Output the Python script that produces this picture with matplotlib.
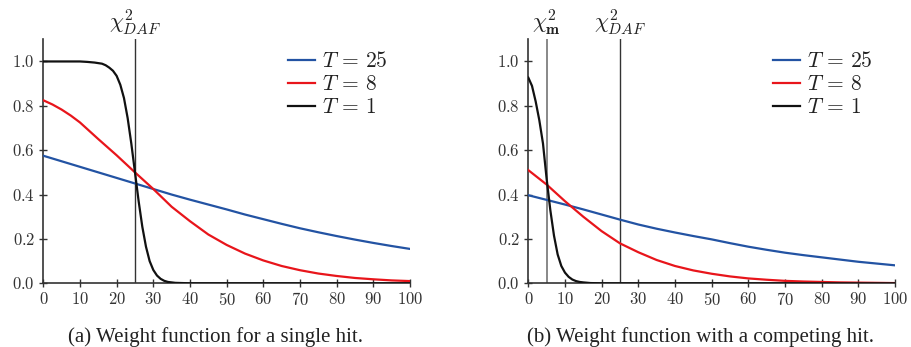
import matplotlib
matplotlib.use("Agg")
import matplotlib.pyplot as plt
import numpy as np

plt.rcParams['mathtext.fontset'] = 'cm'
plt.rcParams['font.family'] = ['Liberation Serif', 'DejaVu Serif']

# ---------------- data ----------------
x_grid = [0, 5, 10, 15, 20, 25, 30, 35, 40, 45, 50, 55, 60, 65, 70, 75, 80, 85, 90, 95, 100]

# (a) single hit
a_T25 = [0.575, 0.55, 0.525, 0.50, 0.475, 0.45, 0.425, 0.40, 0.377, 0.355, 0.333,
         0.31, 0.289, 0.268, 0.248, 0.23, 0.213, 0.197, 0.182, 0.168, 0.155]
a_T8_x = [0, 2.5, 5, 7.5, 10, 15, 20, 25, 30, 35, 40, 45, 50, 55, 60, 65, 70, 75,
          80, 85, 90, 95, 100]
a_T8 = [0.825, 0.806, 0.783, 0.756, 0.725, 0.65, 0.577, 0.50, 0.425, 0.345, 0.28,
        0.22, 0.173, 0.134, 0.103, 0.078, 0.059, 0.044, 0.033, 0.024, 0.018,
        0.013, 0.01]
a_T1_x = [0, 10, 12, 14, 16, 17, 18, 19, 20, 21, 22, 23, 24, 25, 26, 27, 28, 29,
          30, 31, 32, 33, 34, 36, 40, 50, 60, 70, 80, 90, 100]
a_T1 = [1.0, 1.0, 0.998, 0.995, 0.99, 0.983, 0.972, 0.958, 0.935, 0.895, 0.835,
        0.745, 0.63, 0.50, 0.37, 0.255, 0.165, 0.10, 0.06, 0.035, 0.02, 0.011,
        0.006, 0.002, 0.0, 0.0, 0.0, 0.0, 0.0, 0.0, 0.0]

# (b) competing hit
b_T25 = [0.397, 0.376, 0.355, 0.333, 0.31, 0.287, 0.265, 0.246, 0.229, 0.213, 0.198,
         0.181, 0.165, 0.151, 0.138, 0.127, 0.117, 0.107, 0.097, 0.089, 0.081]
b_T8 = [0.51, 0.445, 0.37, 0.30, 0.235, 0.18, 0.14, 0.105, 0.078, 0.058, 0.043,
        0.031, 0.022, 0.016, 0.011, 0.008, 0.006, 0.004, 0.003, 0.002, 0.001]
b_T1_x = [0, 1, 2, 3, 4, 5, 6, 7, 8, 9, 10, 11, 12, 13, 14, 15, 17, 20, 25,
          30, 40, 50, 60, 70, 80, 90, 100]
b_T1 = [0.927, 0.89, 0.82, 0.735, 0.63, 0.47, 0.33, 0.215, 0.13, 0.078, 0.048,
        0.029, 0.017, 0.01, 0.006, 0.004, 0.001, 0.0, 0.0, 0.0, 0.0, 0.0, 0.0,
        0.0, 0.0, 0.0, 0.0]

labels = [r'$T\,=\,25$', r'$T\,=\,8$', r'$T\,=\,1$']
xticks = [0, 10, 20, 30, 40, 50, 60, 70, 80, 90, 100]
yticks = [0.0, 0.2, 0.4, 0.6, 0.8, 1.0]
chi_daf = 25
chi_m = 5
captions = ['(a) Weight function for a single hit.',
            '(b) Weight function with a competing hit.']

# ---------------- style ----------------
c_blue = '#2353a3'
c_red = '#e8151b'
c_black = '#111111'
spine_c = '#333333'

fig = plt.figure(figsize=(9.12, 3.47), dpi=100)
ax_a = fig.add_axes([0.0475, 0.1836, 0.402, 0.7032])
ax_b = fig.add_axes([0.5793, 0.1836, 0.402, 0.7032])


def style(ax):
    ax.set_xlim(0, 100)
    ax.set_ylim(0, 1.1)
    for s in ['top', 'right']:
        ax.spines[s].set_visible(False)
    for s in ['left', 'bottom']:
        ax.spines[s].set_color(spine_c)
        ax.spines[s].set_linewidth(1.2)
    ax.set_xticks(xticks)
    ax.set_xticklabels([f'${t}$' for t in xticks])
    ax.set_yticks(yticks)
    ax.set_yticklabels([f'${t:.1f}$' for t in yticks])
    ax.tick_params(direction='inout', length=6, width=1.0, color=spine_c,
                   labelsize=12, labelcolor='#333333', pad=3)


for ax, (t25x, t25, t8x, t8, t1x, t1) in [
        (ax_a, (x_grid, a_T25, a_T8_x, a_T8, a_T1_x, a_T1)),
        (ax_b, (x_grid, b_T25, x_grid, b_T8, b_T1_x, b_T1))]:
    style(ax)
    ax.axvline(chi_daf, color='#333333', lw=1.0, zorder=1)
    ax.plot(t25x, t25, color=c_blue, lw=1.6, label=labels[0], zorder=3)
    ax.plot(t8x, t8, color=c_red, lw=1.6, label=labels[1], zorder=3)
    ax.plot(t1x, t1, color=c_black, lw=1.6, label=labels[2], zorder=3)
    leg = ax.legend(loc='upper left', bbox_to_anchor=(0.667, 0.948), frameon=False,
                    fontsize=15.5, handlelength=1.25, handletextpad=0.35,
                    labelspacing=0.14, borderpad=0, borderaxespad=0)
    for txt in leg.get_texts():
        txt.set_color('#222222')
    ax.text(chi_daf, 1.11, r'$\chi^2_{DAF}$', ha='center', va='bottom',
            fontsize=16, color='#222222', clip_on=False)

ax_b.axvline(chi_m, color='#888888', lw=1.4, zorder=1)
ax_b.text(chi_m, 1.11, r'$\chi^2_{\mathbf{m}}$', ha='center', va='bottom',
          fontsize=16, color='#222222', clip_on=False)

fig.text(216 / 912, 1 - 337 / 347, captions[0], ha='center', va='center',
         fontsize=15, color='#222222')
fig.text(701 / 912, 1 - 337 / 347, captions[1], ha='center', va='center',
         fontsize=15, color='#222222')

fig.savefig('out.png', dpi=100)
